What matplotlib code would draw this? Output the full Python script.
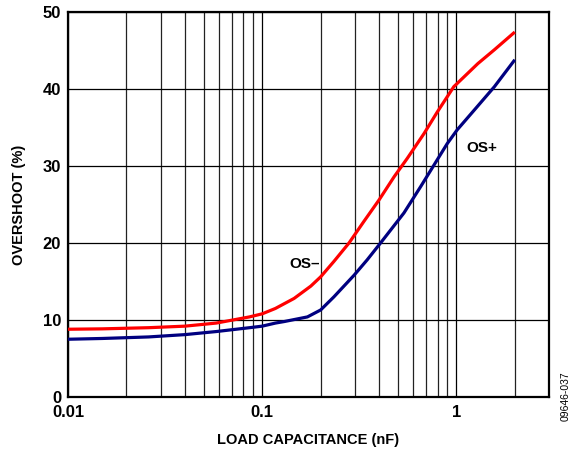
import matplotlib
matplotlib.use("Agg")
import matplotlib.pyplot as plt
from matplotlib.ticker import FixedLocator, NullFormatter

# OS- curve: load capacitance (nF) vs overshoot (%)
cap_minus = [0.01, 0.015, 0.026, 0.04, 0.058, 0.086, 0.1, 0.117, 0.146, 0.178,
             0.2, 0.234, 0.28, 0.334, 0.4, 0.478, 0.559, 0.681, 0.797, 0.97,
             1.29, 1.57, 2.0]
os_minus = [8.8, 8.85, 9.0, 9.2, 9.6, 10.4, 10.8, 11.5, 12.8, 14.4,
            15.6, 17.6, 20.0, 22.8, 25.6, 28.6, 31.0, 34.2, 37.0, 40.3,
            43.3, 45.1, 47.4]

# OS+ curve
cap_plus = [0.01, 0.015, 0.026, 0.04, 0.058, 0.086, 0.1, 0.117, 0.13, 0.171,
            0.2, 0.234, 0.297, 0.347, 0.407, 0.537, 0.654, 0.766, 0.897, 1.01,
            1.24, 1.57, 2.0]
os_plus = [7.5, 7.6, 7.8, 8.1, 8.5, 9.0, 9.2, 9.6, 9.8, 10.4,
           11.3, 13.0, 15.8, 17.8, 20.0, 23.9, 27.3, 30.1, 32.9, 34.7,
           37.3, 40.3, 43.8]

x_ticks = [0.01, 0.1, 1]
x_tick_labels = ["0.01", "0.1", "1"]
y_ticks = [0, 10, 20, 30, 40, 50]

plt.rcParams["font.family"] = ["Liberation Sans", "DejaVu Sans"]
plt.rcParams["font.weight"] = "bold"

fig = plt.figure(figsize=(5.83, 4.5), dpi=100)
ax = fig.add_axes([0.1166, 0.1178, 0.8251, 0.8555])

ax.set_xscale("log")
ax.set_xlim(0.01, 3)
ax.set_ylim(0, 50)

ax.xaxis.set_major_locator(FixedLocator(x_ticks))
ax.set_xticklabels(x_tick_labels)
ax.xaxis.set_minor_locator(FixedLocator(
    [m * d for d in (0.01, 0.1, 1) for m in range(2, 10) if m * d < 3]))
ax.xaxis.set_minor_formatter(NullFormatter())
ax.set_yticks(y_ticks)

ax.grid(True, which="major", color="black", linewidth=0.9)
ax.grid(True, which="minor", axis="x", color="#222222", linewidth=0.9)
ax.tick_params(which="both", length=0, labelsize=12)
ax.tick_params(axis="x", pad=6)
ax.tick_params(axis="y", pad=5)
for lbl in ax.get_xticklabels() + ax.get_yticklabels():
    lbl.set_fontweight("bold")
for sp in ax.spines.values():
    sp.set_linewidth(1.6)

ax.plot(cap_minus, os_minus, color="#ff0000", linewidth=2.3,
        solid_joinstyle="round", solid_capstyle="butt", zorder=3)
ax.plot(cap_plus, os_plus, color="#000080", linewidth=2.3,
        solid_joinstyle="round", solid_capstyle="butt", zorder=3)

ax.text(0.166, 17.3, "OS–", fontsize=11, fontweight="bold", ha="center", va="center")
ax.text(1.35, 32.3, "OS+", fontsize=11, fontweight="bold", ha="center", va="center")

ax.set_xlabel("LOAD CAPACITANCE (nF)", fontsize=10.5, fontweight="bold", labelpad=9)
ax.set_ylabel("OVERSHOOT (%)", fontsize=10.5, fontweight="bold", labelpad=12)

fig.text(0.971, 0.065, "09646-037", rotation=90, fontsize=7.5, fontweight="normal",
         ha="center", va="bottom")

fig.savefig("out.png", dpi=100)
